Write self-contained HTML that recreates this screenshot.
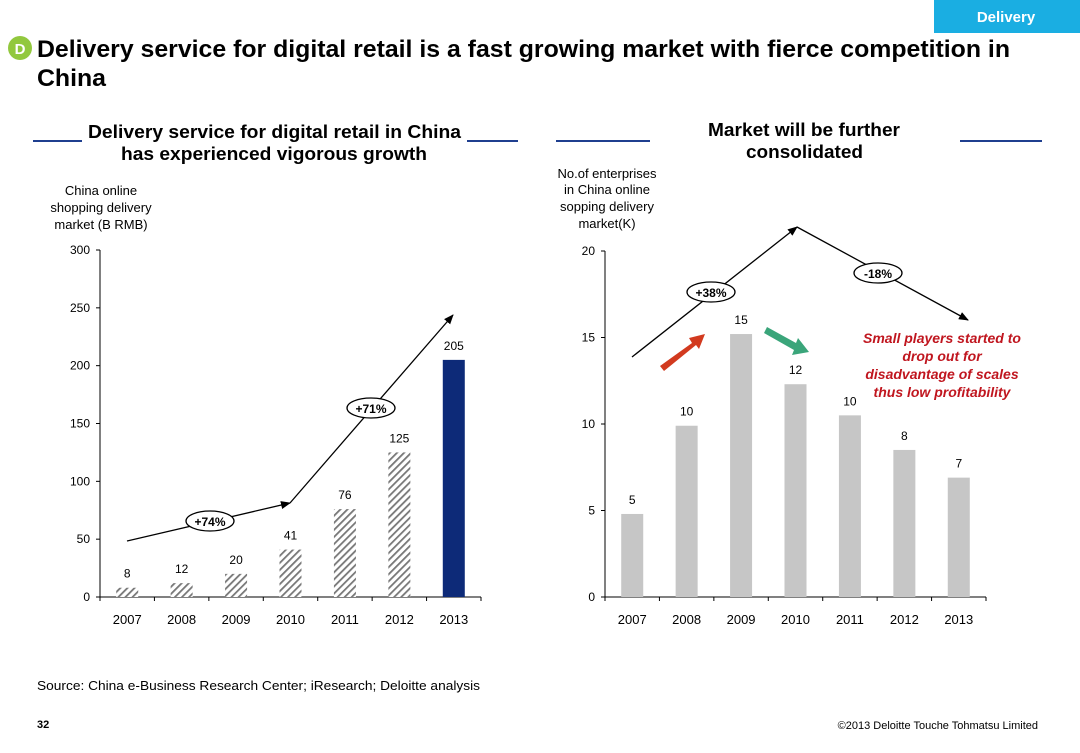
<!DOCTYPE html>
<html><head><meta charset="utf-8"><style>
body{margin:0;width:1080px;height:748px;background:#fff;overflow:hidden;font-family:"Liberation Sans",Arial,sans-serif}
svg text{font-family:"Liberation Sans",Arial,sans-serif}
</style></head><body>
<svg id="s" width="1080" height="748" viewBox="0 0 1080 748" xmlns="http://www.w3.org/2000/svg">
<defs>
<pattern id="hatch" width="5" height="5" patternUnits="userSpaceOnUse" patternTransform="rotate(45)">
<rect width="5" height="5" fill="#fff"/><rect width="1.8" height="5" fill="#777"/></pattern>
<marker id="ah" markerWidth="10" markerHeight="8" refX="9" refY="4" orient="auto" markerUnits="userSpaceOnUse"><path d="M0,0 L10,4 L0,8 z" fill="#000"/></marker>
</defs>
<rect x="934" y="0" width="146" height="33" fill="#1aaee2"/>
<text x="1006" y="22" font-size="15" font-weight="bold" fill="#fff" text-anchor="middle">Delivery</text>
<circle cx="20" cy="48" r="12" fill="#92c83e"/>
<text x="20" y="54" font-size="15" font-weight="bold" fill="#fff" text-anchor="middle">D</text>
<text x="37" y="57" font-size="24" font-weight="bold" fill="#000" textLength="973" lengthAdjust="spacingAndGlyphs">Delivery service for digital retail is a fast growing market with fierce competition in</text>
<text x="37" y="86" font-size="24" font-weight="bold" fill="#000" textLength="69" lengthAdjust="spacingAndGlyphs">China</text>

<line x1="33" y1="141" x2="82" y2="141" stroke="#1f3f8f" stroke-width="2"/>
<line x1="467" y1="141" x2="518" y2="141" stroke="#1f3f8f" stroke-width="2"/>
<text x="88" y="138" font-size="18" font-weight="bold" textLength="373" lengthAdjust="spacingAndGlyphs">Delivery service for digital retail in China</text>
<text x="121" y="160" font-size="18" font-weight="bold" textLength="306" lengthAdjust="spacingAndGlyphs">has experienced vigorous growth</text>
<line x1="556" y1="141" x2="650" y2="141" stroke="#1f3f8f" stroke-width="2"/>
<line x1="960" y1="141" x2="1042" y2="141" stroke="#1f3f8f" stroke-width="2"/>
<text x="708" y="136" font-size="18" font-weight="bold" textLength="192" lengthAdjust="spacingAndGlyphs">Market will be further</text>
<text x="746" y="158" font-size="18" font-weight="bold" textLength="117" lengthAdjust="spacingAndGlyphs">consolidated</text>

<g font-size="13" text-anchor="middle">
<text x="101" y="195">China online</text><text x="101" y="212">shopping delivery</text><text x="101" y="229">market (B RMB)</text></g>
<g font-size="13" text-anchor="middle">
<text x="607" y="178">No.of enterprises</text><text x="607" y="194">in China online</text><text x="607" y="211">sopping delivery</text><text x="607" y="228">market(K)</text></g>

<g id="left"></g>
<g id="right"></g>

<text x="37" y="690" font-size="13" textLength="443" lengthAdjust="spacingAndGlyphs">Source: China e-Business Research Center; iResearch; Deloitte analysis</text>
<text x="37" y="728" font-size="11" font-weight="bold">32</text>
<text x="1038" y="729" font-size="11" text-anchor="end">©2013 Deloitte Touche Tohmatsu Limited</text>
</svg>
<script>
const categories=["2007","2008","2009","2010","2011","2012","2013"];
const marketValues=[8,12,20,41,76,125,205];
const marketLabels=["8","12","20","41","76","125","205"];
const leftTicks=[0,50,100,150,200,250,300];
const enterpriseValues=[4.8,9.9,15.2,12.3,10.5,8.5,6.9];
const enterpriseLabels=["5","10","15","12","10","8","7"];
const rightTicks=[0,5,10,15,20];

const NS="http://www.w3.org/2000/svg";
function mk(p,t,a,txt){const e=document.createElementNS(NS,t);for(const k in a)e.setAttribute(k,a[k]);if(txt!==undefined)e.textContent=txt;p.appendChild(e);return e;}

function chart(g,x0,x1,y0,y1,max,ticks,vals,labels,fillFn){
  const n=categories.length,slot=(x1-x0)/n;
  const xs=i=>x0+slot*(i+0.5);
  const ys=v=>y0-(v/max)*(y0-y1);
  let a=mk(g,'line',{x1:x0,y1:y1,x2:x0,y2:y0,stroke:'#000'});
  
  a=mk(g,'line',{x1:x0,y1:y0,x2:x1,y2:y0,stroke:'#000'});
  
  ticks.forEach(t=>{
    mk(g,'line',{x1:x0-4,y1:ys(t),x2:x0,y2:ys(t),stroke:'#000'});
    const l=mk(g,'text',{x:x0-10,y:ys(t)+4,'font-size':12,'text-anchor':'end'},String(t));
    
  });
  for(let i=0;i<=n;i++)mk(g,'line',{x1:x0+slot*i,y1:y0,x2:x0+slot*i,y2:y0+4,stroke:'#000'});
  categories.forEach((c,i)=>{
    const l=mk(g,'text',{x:xs(i),y:y0+27,'font-size':13,'text-anchor':'middle'},c);
    
    const b=mk(g,'rect',{x:xs(i)-11,y:ys(vals[i]),width:22,height:y0-ys(vals[i]),fill:fillFn(i)});
    
    const v=mk(g,'text',{x:xs(i),y:ys(vals[i])-10,'font-size':12,'text-anchor':'middle'},labels[i]);
    
  });
}
const L=document.getElementById('left'),R=document.getElementById('right');
chart(L,100,481,597,250,300,leftTicks,marketValues,marketLabels,i=>i==6?'#0d2a78':'url(#hatch)');
chart(R,605,986,597,251,20,rightTicks,enterpriseValues,enterpriseLabels,()=>'#c6c6c6');

function trend(g,pts,name){
  const p=mk(g,'polyline',{points:pts.map(q=>q.join(',')).join(' '),fill:'none',stroke:'#000','stroke-width':1.3,'marker-end':'url(#ah)'});
  
}
function bubble(g,cx,cy,t,name){
  const e=mk(g,'ellipse',{cx:cx,cy:cy,rx:24,ry:10,fill:'#fff',stroke:'#000','stroke-width':1.3});
  
  mk(g,'text',{x:cx,y:cy+5,'font-size':12,'font-weight':'bold','text-anchor':'middle'},t);
}
trend(L,[[127,541],[290,503]],'trend-arrow-2007-2010');
trend(L,[[290,503],[453,315]],'trend-arrow-2010-2013');
bubble(L,210,521,'+74%','growth-bubble-74');
bubble(L,371,408,'+71%','growth-bubble-71');
trend(R,[[632,357],[797,227]],'trend-arrow-up');
trend(R,[[797,227],[968,320]],'trend-arrow-down');
bubble(R,711,292,'+38%','growth-bubble-38');
bubble(R,878,273,'-18%','decline-bubble-18');

let ra=mk(R,'polygon',{points:'660,366 692,343 689,338 705,334 699,349 696,345 664,371',fill:'#d23a1f'});

let ga=mk(R,'polygon',{points:'767,327 796,343 798,338 809,352 792,355 794,350 764,333',fill:'#3aa57a'});

const note=["Small players started to","drop out for","disadvantage of scales","thus low profitability"];
note.forEach((t,i)=>{const e=mk(R,'text',{x:942,y:343+i*18,'font-size':14,'font-weight':'bold','font-style':'italic',fill:'#c0161f','text-anchor':'middle'},t);
});
</script>
</body></html>
